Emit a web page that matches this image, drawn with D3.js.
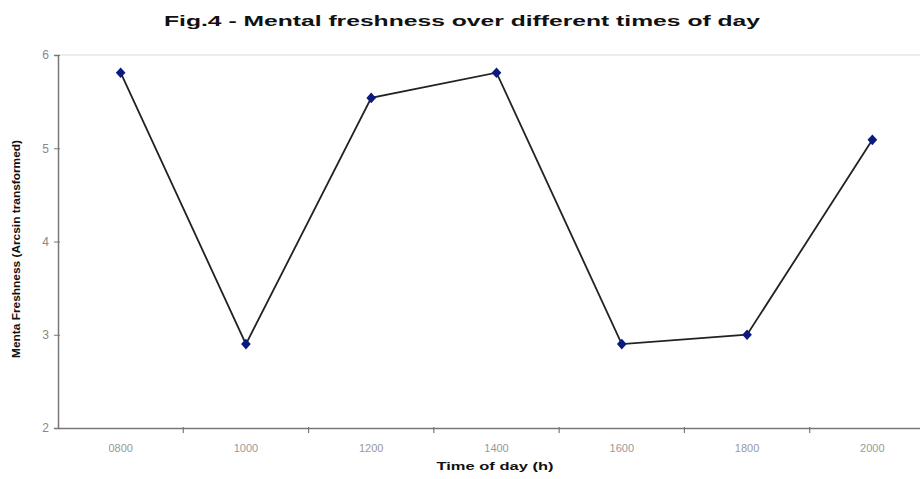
<!DOCTYPE html>
<html><head><meta charset="utf-8">
<script src="https://cdn.jsdelivr.net/npm/d3@7"></script>
<style>body{margin:0;background:#fff}svg{display:block}text{font-family:"Liberation Sans",Arial,sans-serif}</style>
</head><body><svg id="c" width="920" height="479"></svg>
<script>
const categories = ["0800","1000","1200","1400","1600","1800","2000"];
const values = [5.81, 2.90, 5.54, 5.81, 2.90, 3.00, 5.09];
const yTicks = [2,3,4,5,6];

const svg = d3.select("#c");
const L = 58, R = 935, T = 55, B = 428;
const x = d3.scaleBand().domain(categories).range([L, R]);
const y = d3.scaleLinear().domain([2,6]).range([B, T]);

// top border line
svg.append("line").attr("x1",L).attr("x2",920).attr("y1",T).attr("y2",T).attr("stroke","#e6e6e6").attr("stroke-width",1.5);

// y axis
const ya = svg.append("g").attr("transform",`translate(${L},0)`).call(d3.axisLeft(y).tickValues(yTicks).tickSize(4).tickFormat(d3.format("d")));
ya.select(".domain").attr("stroke","#777").attr("stroke-width",1.5);
ya.selectAll(".tick line").attr("stroke","#777").attr("x2",-4).attr("x1",2);
ya.selectAll("text").attr("fill","#888").attr("font-size",12).attr("x",-9);

// x axis
const xa = svg.append("g").attr("transform",`translate(0,${B})`).call(d3.axisBottom(x).tickSize(0));
xa.select(".domain").attr("stroke","#777").attr("stroke-width",1.5);
xa.selectAll("text").attr("fill","#999").attr("font-size",11).attr("dy","1.9em");
// category boundary ticks
svg.append("g").selectAll("line").data(categories.slice(1)).join("line")
  .attr("x1",d=>x(d)).attr("x2",d=>x(d)).attr("y1",B-1).attr("y2",B+5).attr("stroke","#777").attr("stroke-width",1.2);

// line
const line = d3.line().x((d,i)=>x(categories[i])+x.bandwidth()/2).y(d=>y(d));
svg.append("path").datum(values).attr("d",line).attr("fill","none").attr("stroke","#222").attr("stroke-width",1.8);

// markers
svg.append("g").selectAll("path").data(values).join("path")
  .attr("d",d3.symbol().type(d3.symbolDiamond).size(36))
  .attr("transform",(d,i)=>`translate(${x(categories[i])+x.bandwidth()/2},${y(d)}) scale(1.5,0.95)`)
  .attr("fill","#0a1a80");

// titles
svg.append("text").attr("x",462).attr("y",26).attr("text-anchor","middle").attr("font-size",15).attr("font-weight","bold").attr("fill","#111")
  .attr("textLength",596).attr("lengthAdjust","spacingAndGlyphs")
  .text("Fig.4 - Mental freshness over different times of day");
svg.append("text").attr("x",495).attr("y",470).attr("text-anchor","middle").attr("font-size",11).attr("font-weight","bold").attr("fill","#111")
  .attr("textLength",117).attr("lengthAdjust","spacingAndGlyphs")
  .text("Time of day (h)");
svg.append("text").attr("transform","translate(20,249) rotate(-90)").attr("text-anchor","middle").attr("font-size",10).attr("font-weight","bold").attr("fill","#111")
  .attr("textLength",218).attr("lengthAdjust","spacingAndGlyphs")
  .text("Menta Freshness (Arcsin transformed)");
</script></body></html>
